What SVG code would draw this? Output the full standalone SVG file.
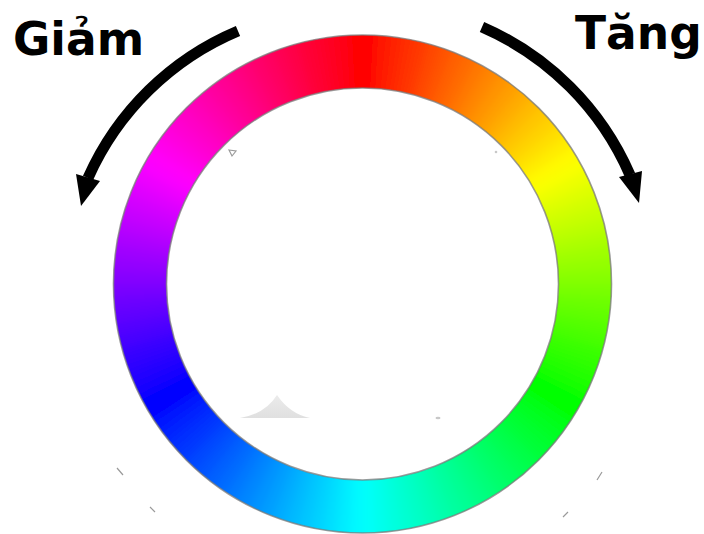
<svg xmlns="http://www.w3.org/2000/svg" xmlns:xlink="http://www.w3.org/1999/xlink" width="704" height="534" viewBox="0 0 704 534">
<style>
.lbl{font-family:"DejaVu Sans","Liberation Sans",sans-serif;font-weight:bold;font-size:45.5px;fill:#000}
.shaft{fill:none;stroke:#000;stroke-width:11;stroke-linecap:butt}
.head{fill:#000}
.edge{fill:none;stroke:#7a7a7a;stroke-width:1.6;opacity:0.75}
.art{fill:none;stroke:#9a9a9a;stroke-width:1.2}
</style>
<defs>
<circle id="seg" r="222.5" pathLength="360" fill="none" stroke-width="76" stroke-dasharray="3.6 356.4"/>
<filter id="smooth" x="-10%" y="-10%" width="120%" height="120%">
<feGaussianBlur stdDeviation="4"/>
</filter>
<clipPath id="annulus">
<path clip-rule="evenodd" d="M113.5 284 A249 249 0 1 0 611.5 284 A249 249 0 1 0 113.5 284 Z M166.5 284 A196 196 0 1 0 558.5 284 A196 196 0 1 0 166.5 284 Z"/>
</clipPath>
<linearGradient id="smudge" x1="0" y1="0" x2="0" y2="1">
<stop offset="0" stop-color="#e6e6e6"/>
<stop offset="1" stop-color="#d8d8d8"/>
</linearGradient>
</defs>
<rect width="704" height="534" fill="#fff"/>
<g id="wheel">
<g clip-path="url(#annulus)">
<g filter="url(#smooth)">
<g transform="translate(362.5,284)">
<use xlink:href="#seg" transform="rotate(-90)" stroke="hsl(1.5,100%,50%)"/>
<use xlink:href="#seg" transform="rotate(-87)" stroke="hsl(4.5,100%,50%)"/>
<use xlink:href="#seg" transform="rotate(-84)" stroke="hsl(7.5,100%,50%)"/>
<use xlink:href="#seg" transform="rotate(-81)" stroke="hsl(10.5,100%,50%)"/>
<use xlink:href="#seg" transform="rotate(-78)" stroke="hsl(13.5,100%,50%)"/>
<use xlink:href="#seg" transform="rotate(-75)" stroke="hsl(16.5,100%,50%)"/>
<use xlink:href="#seg" transform="rotate(-72)" stroke="hsl(19.5,100%,50%)"/>
<use xlink:href="#seg" transform="rotate(-69)" stroke="hsl(22.5,100%,50%)"/>
<use xlink:href="#seg" transform="rotate(-66)" stroke="hsl(25.5,100%,50%)"/>
<use xlink:href="#seg" transform="rotate(-63)" stroke="hsl(28.5,100%,50%)"/>
<use xlink:href="#seg" transform="rotate(-60)" stroke="hsl(31.5,100%,50%)"/>
<use xlink:href="#seg" transform="rotate(-57)" stroke="hsl(34.5,100%,50%)"/>
<use xlink:href="#seg" transform="rotate(-54)" stroke="hsl(37.5,100%,50%)"/>
<use xlink:href="#seg" transform="rotate(-51)" stroke="hsl(40.5,100%,50%)"/>
<use xlink:href="#seg" transform="rotate(-48)" stroke="hsl(43.5,100%,50%)"/>
<use xlink:href="#seg" transform="rotate(-45)" stroke="hsl(46.5,100%,50%)"/>
<use xlink:href="#seg" transform="rotate(-42)" stroke="hsl(49.5,100%,50%)"/>
<use xlink:href="#seg" transform="rotate(-39)" stroke="hsl(52.5,100%,50%)"/>
<use xlink:href="#seg" transform="rotate(-36)" stroke="hsl(55.5,100%,50%)"/>
<use xlink:href="#seg" transform="rotate(-33)" stroke="hsl(58.5,100%,50%)"/>
<use xlink:href="#seg" transform="rotate(-30)" stroke="hsl(61.5,100%,50%)"/>
<use xlink:href="#seg" transform="rotate(-27)" stroke="hsl(64.5,100%,50%)"/>
<use xlink:href="#seg" transform="rotate(-24)" stroke="hsl(67.5,100%,50%)"/>
<use xlink:href="#seg" transform="rotate(-21)" stroke="hsl(70.5,100%,50%)"/>
<use xlink:href="#seg" transform="rotate(-18)" stroke="hsl(73.5,100%,50%)"/>
<use xlink:href="#seg" transform="rotate(-15)" stroke="hsl(76.5,100%,50%)"/>
<use xlink:href="#seg" transform="rotate(-12)" stroke="hsl(79.5,100%,50%)"/>
<use xlink:href="#seg" transform="rotate(-9)" stroke="hsl(82.5,100%,50%)"/>
<use xlink:href="#seg" transform="rotate(-6)" stroke="hsl(85.5,100%,50%)"/>
<use xlink:href="#seg" transform="rotate(-3)" stroke="hsl(88.5,100%,50%)"/>
<use xlink:href="#seg" transform="rotate(0)" stroke="hsl(91.5,100%,50%)"/>
<use xlink:href="#seg" transform="rotate(3)" stroke="hsl(94.5,100%,50%)"/>
<use xlink:href="#seg" transform="rotate(6)" stroke="hsl(97.5,100%,50%)"/>
<use xlink:href="#seg" transform="rotate(9)" stroke="hsl(100.5,100%,50%)"/>
<use xlink:href="#seg" transform="rotate(12)" stroke="hsl(103.5,100%,50%)"/>
<use xlink:href="#seg" transform="rotate(15)" stroke="hsl(106.5,100%,50%)"/>
<use xlink:href="#seg" transform="rotate(18)" stroke="hsl(109.5,100%,50%)"/>
<use xlink:href="#seg" transform="rotate(21)" stroke="hsl(112.5,100%,50%)"/>
<use xlink:href="#seg" transform="rotate(24)" stroke="hsl(115.5,100%,50%)"/>
<use xlink:href="#seg" transform="rotate(27)" stroke="hsl(118.5,100%,50%)"/>
<use xlink:href="#seg" transform="rotate(30)" stroke="hsl(121.5,100%,50%)"/>
<use xlink:href="#seg" transform="rotate(33)" stroke="hsl(124.5,100%,50%)"/>
<use xlink:href="#seg" transform="rotate(36)" stroke="hsl(127.5,100%,50%)"/>
<use xlink:href="#seg" transform="rotate(39)" stroke="hsl(130.5,100%,50%)"/>
<use xlink:href="#seg" transform="rotate(42)" stroke="hsl(133.5,100%,50%)"/>
<use xlink:href="#seg" transform="rotate(45)" stroke="hsl(136.5,100%,50%)"/>
<use xlink:href="#seg" transform="rotate(48)" stroke="hsl(139.5,100%,50%)"/>
<use xlink:href="#seg" transform="rotate(51)" stroke="hsl(142.5,100%,50%)"/>
<use xlink:href="#seg" transform="rotate(54)" stroke="hsl(145.5,100%,50%)"/>
<use xlink:href="#seg" transform="rotate(57)" stroke="hsl(148.5,100%,50%)"/>
<use xlink:href="#seg" transform="rotate(60)" stroke="hsl(151.5,100%,50%)"/>
<use xlink:href="#seg" transform="rotate(63)" stroke="hsl(154.5,100%,50%)"/>
<use xlink:href="#seg" transform="rotate(66)" stroke="hsl(157.5,100%,50%)"/>
<use xlink:href="#seg" transform="rotate(69)" stroke="hsl(160.5,100%,50%)"/>
<use xlink:href="#seg" transform="rotate(72)" stroke="hsl(163.5,100%,50%)"/>
<use xlink:href="#seg" transform="rotate(75)" stroke="hsl(166.5,100%,50%)"/>
<use xlink:href="#seg" transform="rotate(78)" stroke="hsl(169.5,100%,50%)"/>
<use xlink:href="#seg" transform="rotate(81)" stroke="hsl(172.5,100%,50%)"/>
<use xlink:href="#seg" transform="rotate(84)" stroke="hsl(175.5,100%,50%)"/>
<use xlink:href="#seg" transform="rotate(87)" stroke="hsl(178.5,100%,50%)"/>
<use xlink:href="#seg" transform="rotate(90)" stroke="hsl(181.5,100%,50%)"/>
<use xlink:href="#seg" transform="rotate(93)" stroke="hsl(184.5,100%,50%)"/>
<use xlink:href="#seg" transform="rotate(96)" stroke="hsl(187.5,100%,50%)"/>
<use xlink:href="#seg" transform="rotate(99)" stroke="hsl(190.5,100%,50%)"/>
<use xlink:href="#seg" transform="rotate(102)" stroke="hsl(193.5,100%,50%)"/>
<use xlink:href="#seg" transform="rotate(105)" stroke="hsl(196.5,100%,50%)"/>
<use xlink:href="#seg" transform="rotate(108)" stroke="hsl(199.5,100%,50%)"/>
<use xlink:href="#seg" transform="rotate(111)" stroke="hsl(202.5,100%,50%)"/>
<use xlink:href="#seg" transform="rotate(114)" stroke="hsl(205.5,100%,50%)"/>
<use xlink:href="#seg" transform="rotate(117)" stroke="hsl(208.5,100%,50%)"/>
<use xlink:href="#seg" transform="rotate(120)" stroke="hsl(211.5,100%,50%)"/>
<use xlink:href="#seg" transform="rotate(123)" stroke="hsl(214.5,100%,50%)"/>
<use xlink:href="#seg" transform="rotate(126)" stroke="hsl(217.5,100%,50%)"/>
<use xlink:href="#seg" transform="rotate(129)" stroke="hsl(220.5,100%,50%)"/>
<use xlink:href="#seg" transform="rotate(132)" stroke="hsl(223.5,100%,50%)"/>
<use xlink:href="#seg" transform="rotate(135)" stroke="hsl(226.5,100%,50%)"/>
<use xlink:href="#seg" transform="rotate(138)" stroke="hsl(229.5,100%,50%)"/>
<use xlink:href="#seg" transform="rotate(141)" stroke="hsl(232.5,100%,50%)"/>
<use xlink:href="#seg" transform="rotate(144)" stroke="hsl(235.5,100%,50%)"/>
<use xlink:href="#seg" transform="rotate(147)" stroke="hsl(238.5,100%,50%)"/>
<use xlink:href="#seg" transform="rotate(150)" stroke="hsl(241.5,100%,50%)"/>
<use xlink:href="#seg" transform="rotate(153)" stroke="hsl(244.5,100%,50%)"/>
<use xlink:href="#seg" transform="rotate(156)" stroke="hsl(247.5,100%,50%)"/>
<use xlink:href="#seg" transform="rotate(159)" stroke="hsl(250.5,100%,50%)"/>
<use xlink:href="#seg" transform="rotate(162)" stroke="hsl(253.5,100%,50%)"/>
<use xlink:href="#seg" transform="rotate(165)" stroke="hsl(256.5,100%,50%)"/>
<use xlink:href="#seg" transform="rotate(168)" stroke="hsl(259.5,100%,50%)"/>
<use xlink:href="#seg" transform="rotate(171)" stroke="hsl(262.5,100%,50%)"/>
<use xlink:href="#seg" transform="rotate(174)" stroke="hsl(265.5,100%,50%)"/>
<use xlink:href="#seg" transform="rotate(177)" stroke="hsl(268.5,100%,50%)"/>
<use xlink:href="#seg" transform="rotate(180)" stroke="hsl(271.5,100%,50%)"/>
<use xlink:href="#seg" transform="rotate(183)" stroke="hsl(274.5,100%,50%)"/>
<use xlink:href="#seg" transform="rotate(186)" stroke="hsl(277.5,100%,50%)"/>
<use xlink:href="#seg" transform="rotate(189)" stroke="hsl(280.5,100%,50%)"/>
<use xlink:href="#seg" transform="rotate(192)" stroke="hsl(283.5,100%,50%)"/>
<use xlink:href="#seg" transform="rotate(195)" stroke="hsl(286.5,100%,50%)"/>
<use xlink:href="#seg" transform="rotate(198)" stroke="hsl(289.5,100%,50%)"/>
<use xlink:href="#seg" transform="rotate(201)" stroke="hsl(292.5,100%,50%)"/>
<use xlink:href="#seg" transform="rotate(204)" stroke="hsl(295.5,100%,50%)"/>
<use xlink:href="#seg" transform="rotate(207)" stroke="hsl(298.5,100%,50%)"/>
<use xlink:href="#seg" transform="rotate(210)" stroke="hsl(301.5,100%,50%)"/>
<use xlink:href="#seg" transform="rotate(213)" stroke="hsl(304.5,100%,50%)"/>
<use xlink:href="#seg" transform="rotate(216)" stroke="hsl(307.5,100%,50%)"/>
<use xlink:href="#seg" transform="rotate(219)" stroke="hsl(310.5,100%,50%)"/>
<use xlink:href="#seg" transform="rotate(222)" stroke="hsl(313.5,100%,50%)"/>
<use xlink:href="#seg" transform="rotate(225)" stroke="hsl(316.5,100%,50%)"/>
<use xlink:href="#seg" transform="rotate(228)" stroke="hsl(319.5,100%,50%)"/>
<use xlink:href="#seg" transform="rotate(231)" stroke="hsl(322.5,100%,50%)"/>
<use xlink:href="#seg" transform="rotate(234)" stroke="hsl(325.5,100%,50%)"/>
<use xlink:href="#seg" transform="rotate(237)" stroke="hsl(328.5,100%,50%)"/>
<use xlink:href="#seg" transform="rotate(240)" stroke="hsl(331.5,100%,50%)"/>
<use xlink:href="#seg" transform="rotate(243)" stroke="hsl(334.5,100%,50%)"/>
<use xlink:href="#seg" transform="rotate(246)" stroke="hsl(337.5,100%,50%)"/>
<use xlink:href="#seg" transform="rotate(249)" stroke="hsl(340.5,100%,50%)"/>
<use xlink:href="#seg" transform="rotate(252)" stroke="hsl(343.5,100%,50%)"/>
<use xlink:href="#seg" transform="rotate(255)" stroke="hsl(346.5,100%,50%)"/>
<use xlink:href="#seg" transform="rotate(258)" stroke="hsl(349.5,100%,50%)"/>
<use xlink:href="#seg" transform="rotate(261)" stroke="hsl(352.5,100%,50%)"/>
<use xlink:href="#seg" transform="rotate(264)" stroke="hsl(355.5,100%,50%)"/>
<use xlink:href="#seg" transform="rotate(267)" stroke="hsl(358.5,100%,50%)"/>
</g>
</g>
</g>
<g transform="translate(362.5,284)">
<circle class="edge" r="249"/>
<circle class="edge" r="196"/>
</g>
</g>
<g id="marks">
<path class="art" d="M229 150 L236 151 L232 156 Z"/>
<circle cx="496" cy="152" r="1.3" fill="#c8c8c8"/>
<path d="M240 418 Q265 414 277 395 Q290 414 310 418 Z" fill="url(#smudge)" opacity="0.8"/>
<ellipse cx="438" cy="418" rx="2.5" ry="1.3" fill="#c8c8c8"/>
<path class="art" d="M117 468 L123 475 M150 507 L155 512 M602 472 L597 480 M568 512 L563 517" stroke="#c0c0c0"/>
</g>
<g id="connectors">
<g id="arrow-giam">
<path class="shaft" d="M238 31 A285 285 0 0 0 88 178"/>
<polygon class="head" points="76,174 100,181 81,206"/>
</g>
<g id="arrow-tang">
<path class="shaft" d="M482 27 A285 285 0 0 1 630 175"/>
<polygon class="head" points="619,177 642,171 639,203"/>
</g>
</g>
<g id="label-giam"><text class="lbl" x="13" y="55">Giảm</text></g>
<g id="label-tang"><text class="lbl" x="575" y="49">Tăng</text></g>
</svg>
